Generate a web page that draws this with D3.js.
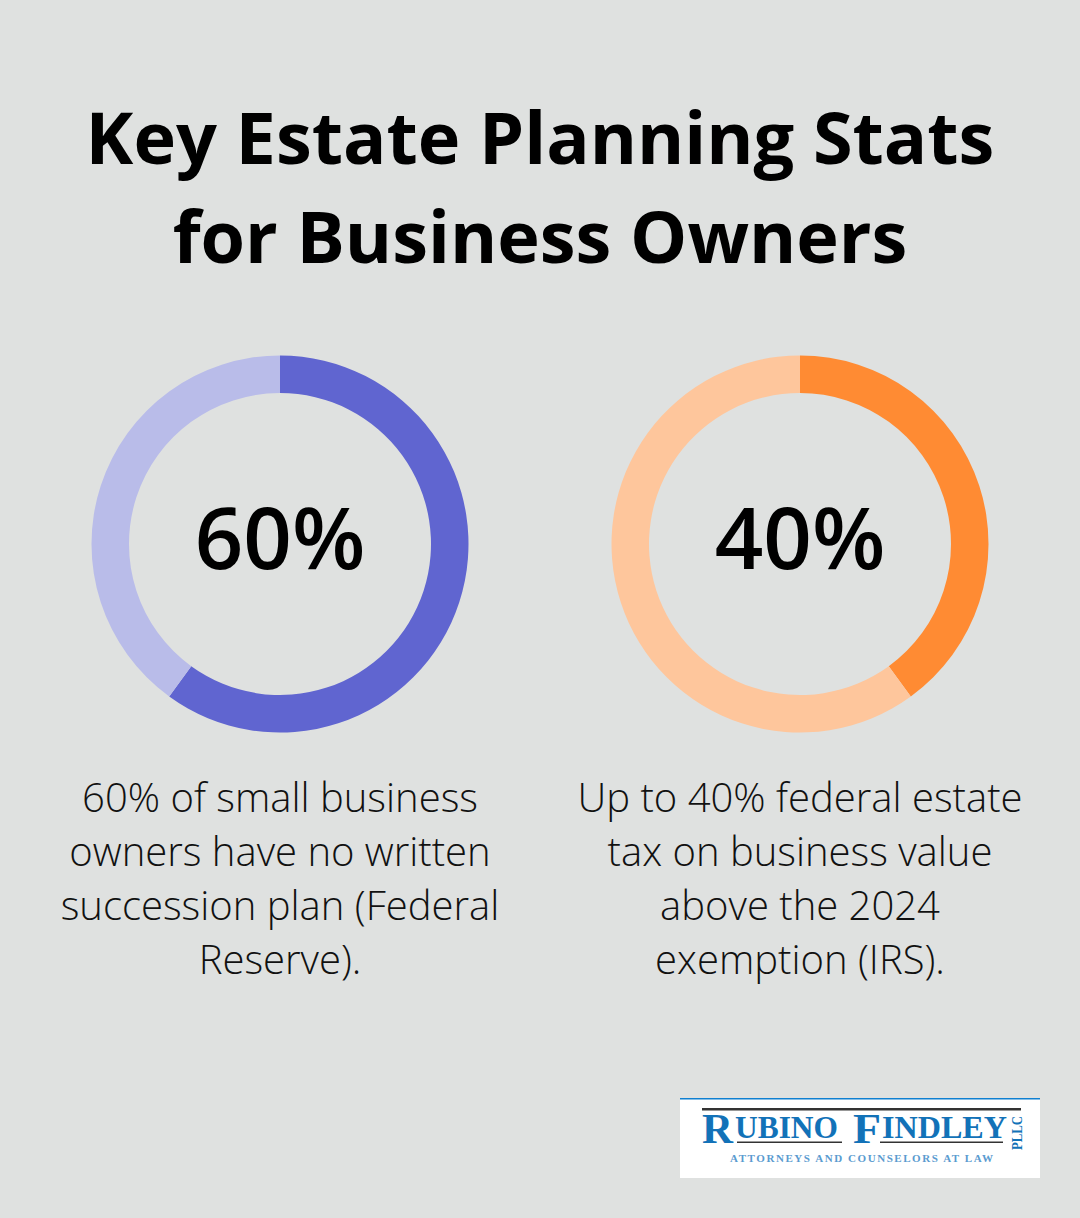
<!DOCTYPE html>
<html>
<head>
<meta charset="utf-8">
<script src="https://cdn.jsdelivr.net/npm/d3@7"></script>
<style>
  html, body { margin: 0; padding: 0; background: #dfe1e0; }
  svg { display: block; }
  text { font-family: "Open Sans", sans-serif; }
  .logo text { font-family: "Liberation Serif", serif; font-weight: 700; }
</style>
</head>
<body>
<svg id="chart" width="1080" height="1218"></svg>
<script>
const titleLines = ["Key Estate Planning Stats", "for Business Owners"];
const shares = [60, 40];
const shareLabels = ["60%", "40%"];
const captions = [
  ["60% of small business", "owners have no written", "succession plan (Federal", "Reserve)."],
  ["Up to 40% federal estate", "tax on business value", "above the 2024", "exemption (IRS)."]
];
const mainColors = ["#6065d0", "#ff8b33"];
const lightColors = ["#b9bce9", "#fec69c"];

const svg = d3.select("#chart");

svg.append("g").selectAll("text")
  .data(titleLines)
  .join("text")
  .attr("x", 540)
  .attr("y", (d, i) => 164 + i * 98.5)
  .attr("text-anchor", "middle")
  .attr("font-size", 72)
  .attr("font-weight", 700)
  .attr("fill", "#000")
  .text(d => d);

const centers = d3.scalePoint().domain([0, 1]).range([280, 800]);
const arc = d3.arc().innerRadius(151).outerRadius(188.5);
const pie = d3.pie().sort(null).value(d => d);

shares.forEach((share, i) => {
  const g = svg.append("g").attr("transform", `translate(${centers(i)},544)`);

  g.selectAll("path")
    .data(pie([share, 100 - share]))
    .join("path")
    .attr("d", arc)
    .attr("fill", (d, j) => j === 0 ? mainColors[i] : lightColors[i]);

  g.append("text")
    .attr("y", 25)
    .attr("text-anchor", "middle")
    .attr("font-size", 85)
    .attr("font-weight", 600)
    .attr("fill", "#000")
    .text(shareLabels[i]);

  svg.append("g").selectAll("text")
    .data(captions[i])
    .join("text")
    .attr("x", centers(i))
    .attr("y", (d, k) => 812 + k * 54)
    .attr("text-anchor", "middle")
    .attr("font-size", 40)
    .attr("font-weight", 300)
    .attr("fill", "#111")
    .text(d => d);
});

// logo box
const logo = svg.append("g").attr("class", "logo").attr("transform", "translate(680,1098)");
logo.append("rect").attr("width", 360).attr("height", 80).attr("fill", "#fff");
logo.append("rect").attr("width", 360).attr("height", 1.5).attr("fill", "#0f7fd0");
logo.append("rect").attr("x", 22).attr("y", 10).attr("width", 319).attr("height", 2.5).attr("fill", "#333");
logo.append("rect").attr("x", 57).attr("y", 43.5).attr("width", 105).attr("height", 1.5).attr("fill", "#333");
logo.append("rect").attr("x", 200).attr("y", 43.5).attr("width", 123).attr("height", 1.5).attr("fill", "#333");

// big initials sit on the rule line, the rest of the name is raised above it
[["R", 22, 45, 42, 31], ["UBINO", 55, 40, 32, 103], ["F", 173, 45, 42, 28], ["INDLEY", 202, 40, 32, 125]]
  .forEach(([s, x, y, size, len]) => {
    logo.append("text")
      .attr("x", x).attr("y", y)
      .attr("font-size", size)
      .attr("fill", "#1272b8")
      .attr("textLength", len)
      .attr("lengthAdjust", "spacingAndGlyphs")
      .text(s);
  });

logo.append("text")
  .attr("x", 50).attr("y", 64)
  .attr("font-size", 11)
  .attr("fill", "#5a9bd0")
  .attr("textLength", 263)
  .attr("lengthAdjust", "spacing")
  .text("ATTORNEYS AND COUNSELORS AT LAW");
logo.append("text")
  .attr("transform", "translate(342,52) rotate(-90)")
  .attr("font-size", 14)
  .attr("fill", "#1272b8")
  .attr("textLength", 34)
  .attr("lengthAdjust", "spacingAndGlyphs")
  .text("PLLC");
</script>
</body>
</html>
